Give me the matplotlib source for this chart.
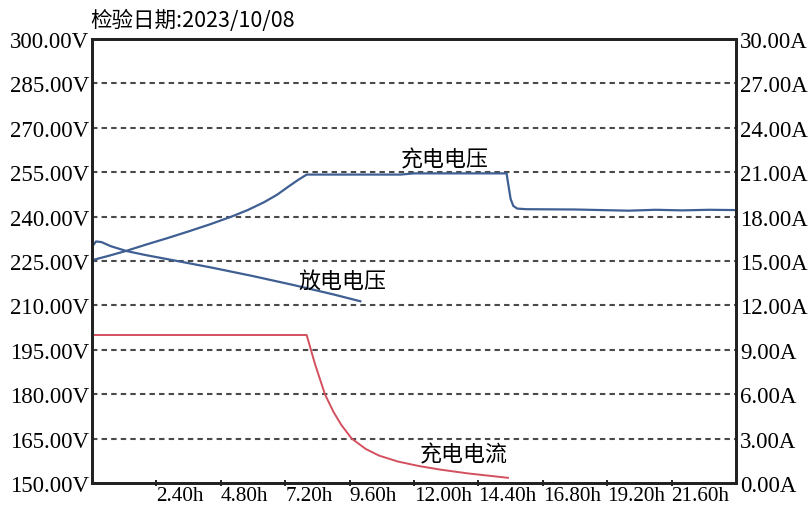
import matplotlib
matplotlib.use("Agg")
import matplotlib.pyplot as plt
import numpy as np

plt.rcParams['font.family'] = ['Liberation Serif', 'Noto Sans CJK SC']

# data (hours)
charge_v_t = [0.0, 0.1, 0.6, 1.27, 2.0, 2.8, 3.6, 4.4, 5.2, 5.8, 6.4, 6.9, 7.3, 7.65, 8.0, 10.0, 11.5, 12.0, 14.0, 15.45, 15.52, 15.6, 15.7, 15.85, 16.2, 18.0, 19.0, 20.0, 21.0, 22.0, 23.0, 24.0]
charge_v = [224.5, 225.5, 226.7, 228.4, 230.5, 232.7, 235.0, 237.4, 240.0, 242.2, 244.8, 247.4, 250.0, 252.2, 254.2, 254.2, 254.2, 254.6, 254.6, 254.6, 250.5, 246.0, 243.6, 242.7, 242.5, 242.4, 242.2, 242.0, 242.3, 242.1, 242.3, 242.2]

disch_v_t = [0.0, 0.15, 0.35, 0.7, 1.27, 2.0, 3.0, 4.5, 6.0, 7.5, 9.0, 10.0]
disch_v = [229.8, 231.6, 231.4, 230.0, 228.4, 227.0, 225.3, 222.7, 219.9, 216.9, 213.7, 211.4]

curr_t = [0.0, 0.0, 0.05, 0.1, 4.0, 8.0, 8.3, 8.68, 9.0, 9.3, 9.68, 10.2, 10.7, 11.4, 12.2, 13.0, 14.0, 15.0, 15.5]
curr = [9.0, 10.0, 10.0, 10.0, 10.0, 10.0, 8.1, 6.0, 4.8, 3.9, 3.0, 2.3, 1.85, 1.45, 1.14, 0.9, 0.65, 0.45, 0.35]

v_ticks = np.arange(150, 301, 15)
a_ticks = np.arange(0, 31, 3)
x_ticks = [2.4, 4.8, 7.2, 9.6, 12.0, 14.4, 16.8, 19.2, 21.6]

fig = plt.figure(figsize=(8.1, 5.06), dpi=100)
ax = fig.add_axes([92/810, 1-484/506, 644/810, 444/506])
ax2 = ax.twinx()

blue = '#3f5f93'
red = '#d3505f'
ax.plot(charge_v_t, charge_v, color=blue, lw=1.6)
ax.plot(disch_v_t, disch_v, color=blue, lw=1.6)
ax2.plot(curr_t, curr, color=red, lw=1.4)

ax.set_xlim(0, 24)
ax.set_ylim(150, 300)
ax2.set_ylim(0, 30)
ax.set_yticks(v_ticks)
ax.set_yticklabels(['%.2fV' % v for v in v_ticks])
ax2.set_yticks(a_ticks)
ax2.set_yticklabels(['%.2fA' % a for a in a_ticks])
ax.set_xticks(x_ticks)
ax.set_xticklabels(['%.2fh' % x for x in x_ticks], ha='left')

for v in v_ticks[1:-1]:
    ax.axhline(v, color='#4a4a4a', lw=1.5, ls=(0, (2.6, 2.0)), zorder=0)

ax.tick_params(axis='y', length=0, labelsize=16.5, pad=2)
ax2.tick_params(axis='y', length=0, labelsize=16.5, pad=3)
ax.tick_params(axis='x', length=4, width=1.2, labelsize=15.2, pad=0, direction='inout')
for a in (ax, ax2):
    for s in a.spines.values():
        s.set_linewidth(2)
        s.set_color('#222222')

ax.text(11.5, 255.5, '充电电压', fontsize=15.8, family=['Noto Sans CJK SC'], ha='left', va='bottom')
ax.text(7.7, 218.5, '放电电压', fontsize=15.8, family=['Noto Sans CJK SC'], ha='left', va='center')
ax.text(12.2, 159.5, '充电电流', fontsize=15.8, family=['Noto Sans CJK SC'], ha='left', va='center')
fig.text(90/810, 1-21/506, '检验日期:2023/10/08', fontsize=15.5, family=['Noto Sans CJK SC', 'Liberation Serif'], ha='left', va='center')

fig.savefig('out.png', dpi=100, facecolor='white')
